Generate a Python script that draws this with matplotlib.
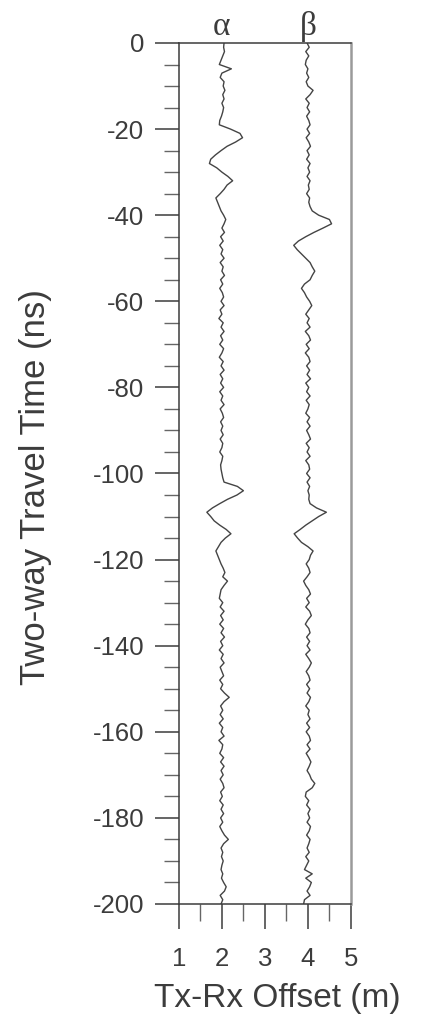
import numpy as np
import matplotlib
matplotlib.use("Agg")
import matplotlib.pyplot as plt
from matplotlib.ticker import MultipleLocator

# two-way travel time samples (ns), 1 ns step from 0 down to -200
time_ns = -np.arange(0, 201)

# trace alpha, deviation from its 2 m offset
alpha_dev = [
    0.05, 0.04, 0.06, 0.02, -0.02, -0.06, 0.22, 0.0, -0.04, 0.05,
    0.03, 0.07, 0.02, 0.05, 0.0, 0.04, 0.02, -0.01, -0.05, -0.06,
    0.2, 0.42, 0.48, 0.32, 0.12, -0.02, -0.15, -0.26, -0.29, -0.12,
    0.0, 0.14, 0.25, 0.12, 0.05, -0.04, -0.14, -0.1, -0.06, -0.02,
    0.04, 0.09, 0.05, 0.0, 0.06, -0.03, 0.03, -0.05, 0.02, -0.02,
    0.05, -0.04, 0.03, 0.0, 0.06, -0.03, 0.02, -0.05, 0.01, 0.04,
    -0.02, 0.05, -0.04, 0.0, -0.07, 0.03, -0.02, 0.05, -0.03, 0.02,
    -0.05, 0.04, 0.0, -0.06, 0.03, -0.02, 0.05, -0.04, 0.02, -0.03,
    0.04, -0.05, 0.02, -0.02, 0.05, -0.04, 0.01, 0.04, -0.03, 0.02,
    -0.02, 0.03, -0.04, 0.02, 0.0, -0.05, 0.02, 0.0, -0.03, -0.02,
    0.0, 0.02, 0.05, 0.36, 0.5, 0.35, 0.13, -0.05, -0.22, -0.35,
    -0.26, -0.18, -0.05, 0.1, 0.21, 0.08, -0.02, -0.08, -0.14, -0.1,
    -0.06, -0.02, 0.03, 0.07, 0.02, 0.13, 0.05, -0.02, -0.04, -0.06,
    0.02, -0.04, 0.05, -0.03, 0.03, -0.05, 0.04, -0.02, 0.06, -0.03,
    0.02, -0.06, 0.03, -0.02, 0.05, -0.04, 0.0, 0.04, -0.05, 0.02,
    -0.03, 0.06, 0.17, 0.05, -0.03, 0.02, -0.04, 0.03, -0.06, 0.02,
    -0.02, 0.05, -0.07, 0.02, 0.0, -0.05, 0.04, -0.03, 0.05, -0.02,
    0.03, -0.04, 0.02, 0.05, -0.03, 0.01, -0.05, 0.03, -0.02, 0.04,
    -0.03, 0.02, -0.05, 0.0, 0.06, 0.15, 0.04, -0.02, 0.02, -0.01,
    0.03, 0.0, -0.02, 0.02, -0.01, 0.04, 0.1, 0.06, -0.04, 0.02,
    -0.02,
]

# trace beta, deviation from its 4 m offset
beta_dev = [
    -0.02, 0.03, -0.05, 0.02, -0.04, -0.06, 0.0, -0.03, 0.02, -0.04,
    0.0, 0.12, 0.05, -0.05, 0.03, -0.02, 0.04, -0.03, 0.02, 0.05,
    -0.02, 0.04, -0.04, 0.02, 0.06, -0.02, 0.03, -0.03, 0.05, 0.0,
    0.04, -0.02, 0.05, 0.01, 0.03, -0.03, 0.04, 0.02, 0.05, 0.1,
    0.25, 0.5, 0.55, 0.35, 0.14, -0.05, -0.22, -0.33, -0.25, -0.15,
    -0.05, 0.05, 0.1, 0.16, 0.1, 0.05, -0.08, -0.15, -0.08, -0.03,
    0.04, 0.09, 0.02, -0.05, 0.03, -0.02, 0.05, -0.06, 0.02, 0.06,
    -0.04, 0.03, -0.06, 0.02, 0.05, -0.03, 0.04, -0.02, 0.06, -0.05,
    0.02, -0.03, 0.05, -0.04, 0.03, 0.0, -0.05, 0.04, -0.02, 0.05,
    -0.03, 0.02, 0.06, -0.04, 0.03, -0.02, 0.05, -0.05, 0.02, 0.04,
    -0.03, 0.05, -0.02, 0.04, 0.0, 0.03, 0.02, 0.05, 0.2, 0.43,
    0.25, 0.1, -0.05, -0.18, -0.32, -0.24, -0.15, 0.0, 0.12, 0.06,
    0.03, -0.04, 0.02, 0.05, -0.02, -0.1, -0.05, 0.02, 0.06, -0.03,
    0.03, -0.05, 0.04, 0.08, 0.0, -0.06, 0.02, 0.05, -0.03, 0.04,
    -0.02, 0.05, -0.05, 0.02, 0.08, 0.03, -0.04, 0.02, 0.05, -0.03,
    0.04, -0.02, 0.06, 0.02, -0.05, 0.03, 0.0, 0.05, -0.03, 0.04,
    -0.04, 0.03, 0.06, -0.02, 0.05, -0.04, 0.02, 0.07, 0.03, -0.02,
    0.04, 0.08, 0.16, 0.1, -0.04, -0.06, 0.02, -0.03, 0.05, 0.0,
    0.04, -0.02, 0.06, 0.03, -0.03, 0.05, 0.02, -0.02, 0.03, -0.05,
    0.02, -0.03, -0.08, 0.1, -0.05, 0.08, 0.04, -0.02, 0.05, -0.08,
    -0.1,
]

trace_offsets = [2, 4]
trace_names = ["α", "β"]
x_ticks = [1, 2, 3, 4, 5]
y_ticks = list(range(0, -201, -20))

plt.rcParams["font.family"] = ["Liberation Sans", "DejaVu Sans"]
plt.rcParams["axes.unicode_minus"] = False

fig = plt.figure(figsize=(4.29, 10.21), dpi=100)
ax = fig.add_axes([0.417, 0.1146, 0.401, 0.8433])

dark = "#3c3c3c"
for off, dev in zip(trace_offsets, [alpha_dev, beta_dev]):
    ax.plot(off + np.array(dev), time_ns, color="#444444", lw=1.0)

ax.set_xlim(1, 5)
ax.set_ylim(-200, 0)
ax.set_xticks(x_ticks)
ax.set_yticks(y_ticks)
ax.xaxis.set_minor_locator(MultipleLocator(0.5))
ax.yaxis.set_minor_locator(MultipleLocator(5))

ax.tick_params(axis="both", which="major", direction="out", colors=dark,
               labelsize=18.5, width=1.1)
ax.tick_params(axis="x", which="major", length=18, pad=13)
ax.tick_params(axis="y", which="major", length=17, pad=8)
ax.tick_params(axis="x", which="minor", length=12, width=1.0, color="#666666")
ax.tick_params(axis="y", which="minor", length=11, width=1.0, color="#666666")

for side in ["left", "top", "bottom"]:
    ax.spines[side].set_color(dark)
    ax.spines[side].set_linewidth(1.1)
ax.spines["right"].set_color("#9a9a9a")
ax.spines["right"].set_linewidth(1.8)

ax.set_xlabel("Tx-Rx Offset (m)", fontsize=24, color=dark)
ax.xaxis.set_label_coords(0.57, -0.092)
ax.set_ylabel("Two-way Travel Time (ns)", fontsize=25, color=dark)
ax.yaxis.set_label_coords(-0.74, 0.484)

for off, name in zip(trace_offsets, trace_names):
    ax.text(off, 1.9, name, ha="center", va="baseline", fontsize=24,
            family=["Liberation Serif", "DejaVu Serif"], color=dark,
            clip_on=False)

fig.savefig("out.png", dpi=100)
